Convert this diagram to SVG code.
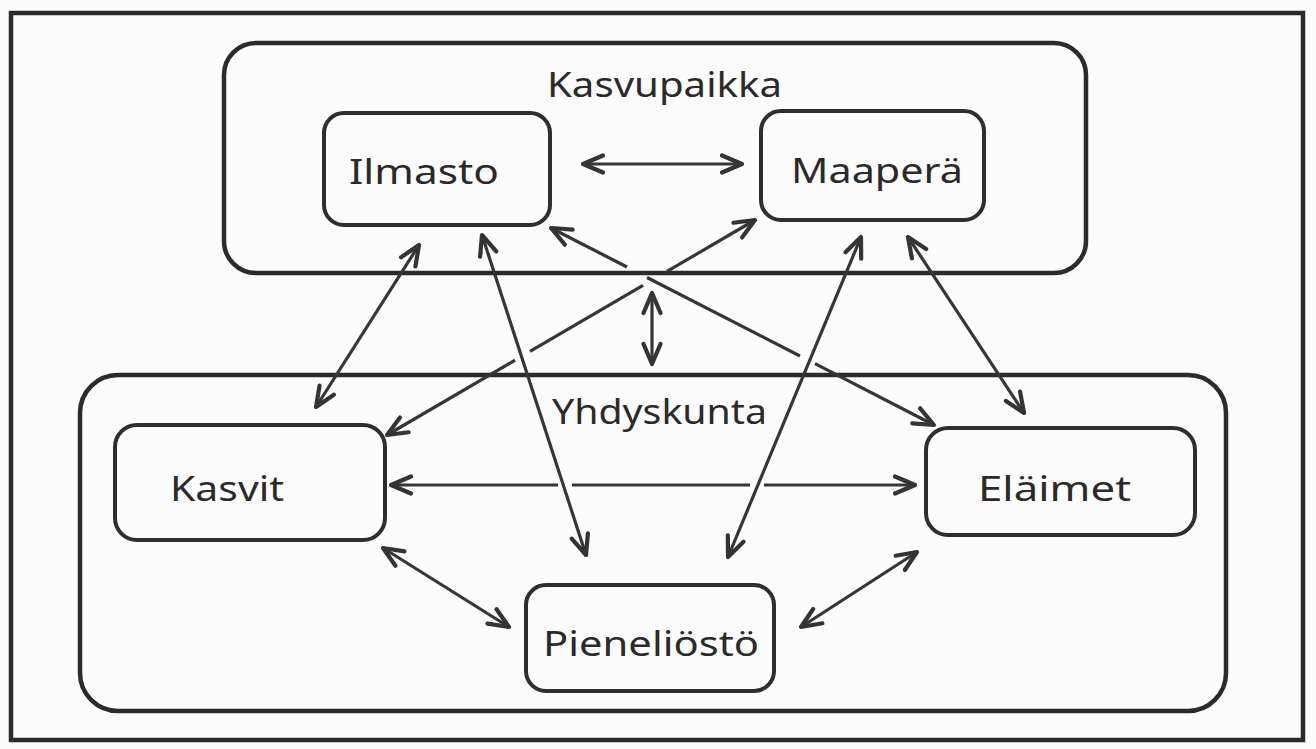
<svg xmlns="http://www.w3.org/2000/svg" width="1316" height="749" viewBox="0 0 1316 749">
  <defs>
    <style>
      .frame { fill: none; stroke: #2b2b2b; stroke-width: 4.5; }
      .box { fill: none; stroke: #2e2e2e; stroke-width: 4; }
      .lbl { font-family: "Noto Sans", "DejaVu Sans", sans-serif; font-size: 35px; fill: #2a2a2a; }
      .arr { fill: none; stroke: #363636; stroke-width: 3.2; stroke-linecap: butt; }
    </style>
    <marker id="ah" markerUnits="userSpaceOnUse" viewBox="0 0 28 24" refX="24" refY="12" markerWidth="28" markerHeight="24" orient="auto-start-reverse">
      <path d="M4,3.5 L24,12 L4,20.5" fill="none" stroke="#343434" stroke-width="4.2" stroke-linecap="round" stroke-linejoin="round"/>
    </marker>
  </defs>

  <rect width="1316" height="749" fill="#fcfcfc"/>

  <!-- outer frame -->
  <rect class="frame" x="11" y="13" width="1292" height="727"/>

  <!-- habitat group -->
  <g id="kasvupaikka">
    <rect class="frame" x="224" y="43" width="862" height="230" rx="32"/>
    <text class="lbl" x="547" y="97" textLength="235" lengthAdjust="spacingAndGlyphs">Kasvupaikka</text>
  </g>
  <g id="ilmasto">
    <rect class="box" x="324" y="113" width="226" height="112" rx="20"/>
    <text class="lbl" x="349" y="184" textLength="150" lengthAdjust="spacingAndGlyphs">Ilmasto</text>
  </g>
  <g id="maapera">
    <rect class="box" x="761" y="111" width="223" height="109" rx="20"/>
    <text class="lbl" x="791" y="183" textLength="172" lengthAdjust="spacingAndGlyphs">Maaperä</text>
  </g>

  <!-- community group -->
  <g id="yhdyskunta">
    <rect class="frame" x="80" y="375" width="1146" height="336" rx="38"/>
    <text class="lbl" x="552" y="424" textLength="215" lengthAdjust="spacingAndGlyphs">Yhdyskunta</text>
  </g>
  <g id="kasvit">
    <rect class="box" x="115" y="425" width="270" height="115" rx="22"/>
    <text class="lbl" x="170" y="501" textLength="114" lengthAdjust="spacingAndGlyphs">Kasvit</text>
  </g>
  <g id="elaimet">
    <rect class="box" x="926" y="428" width="269" height="107" rx="22"/>
    <text class="lbl" x="978" y="501" textLength="153" lengthAdjust="spacingAndGlyphs">Eläimet</text>
  </g>
  <g id="pieneliosto">
    <rect class="box" x="526" y="585" width="248" height="106" rx="20"/>
    <text class="lbl" x="543" y="656" textLength="216" lengthAdjust="spacingAndGlyphs">Pieneliöstö</text>
  </g>

  <!-- connectors -->
  <g id="connectors">
    <!-- Ilmasto <-> Maaperä -->
    <line class="arr" x1="583" y1="164" x2="742" y2="164" marker-start="url(#ah)" marker-end="url(#ah)"/>
    <!-- Kasvit <-> Eläimet (broken where other lines cross) -->
    <line class="arr" x1="391" y1="485" x2="558" y2="485" marker-start="url(#ah)"/>
    <line class="arr" x1="572" y1="485" x2="750" y2="485"/>
    <line class="arr" x1="764" y1="485" x2="915" y2="485" marker-end="url(#ah)"/>
    <!-- Ilmasto <-> Kasvit -->
    <line class="arr" x1="419" y1="245" x2="316" y2="407" marker-start="url(#ah)" marker-end="url(#ah)"/>
    <!-- Ilmasto <-> Pieneliöstö -->
    <line class="arr" x1="482" y1="235" x2="586" y2="555" marker-start="url(#ah)" marker-end="url(#ah)"/>
    <!-- Ilmasto <-> Eläimet -->
    <line class="arr" x1="551" y1="228" x2="627" y2="267" marker-start="url(#ah)"/>
    <line class="arr" x1="647" y1="277.5" x2="800" y2="356"/>
    <line class="arr" x1="815" y1="363.7" x2="934" y2="425" marker-end="url(#ah)"/>
    <!-- Maaperä <-> Kasvit -->
    <line class="arr" x1="755" y1="220" x2="667" y2="271.4" marker-start="url(#ah)"/>
    <line class="arr" x1="643" y1="285.4" x2="530" y2="351.4"/>
    <line class="arr" x1="515" y1="360.2" x2="387" y2="435" marker-end="url(#ah)"/>
    <!-- Maaperä <-> Pieneliöstö -->
    <line class="arr" x1="861" y1="237" x2="728" y2="557" marker-start="url(#ah)" marker-end="url(#ah)"/>
    <!-- Maaperä <-> Eläimet -->
    <line class="arr" x1="908" y1="237" x2="1024" y2="413" marker-start="url(#ah)" marker-end="url(#ah)"/>
    <!-- Kasvit <-> Pieneliöstö -->
    <line class="arr" x1="383" y1="548" x2="509" y2="627" marker-start="url(#ah)" marker-end="url(#ah)"/>
    <!-- Pieneliöstö <-> Eläimet -->
    <line class="arr" x1="801" y1="627" x2="917" y2="552" marker-start="url(#ah)" marker-end="url(#ah)"/>
    <!-- Kasvupaikka <-> Yhdyskunta -->
    <line class="arr" x1="652" y1="293" x2="652" y2="364" marker-start="url(#ah)" marker-end="url(#ah)"/>
  </g>
</svg>
